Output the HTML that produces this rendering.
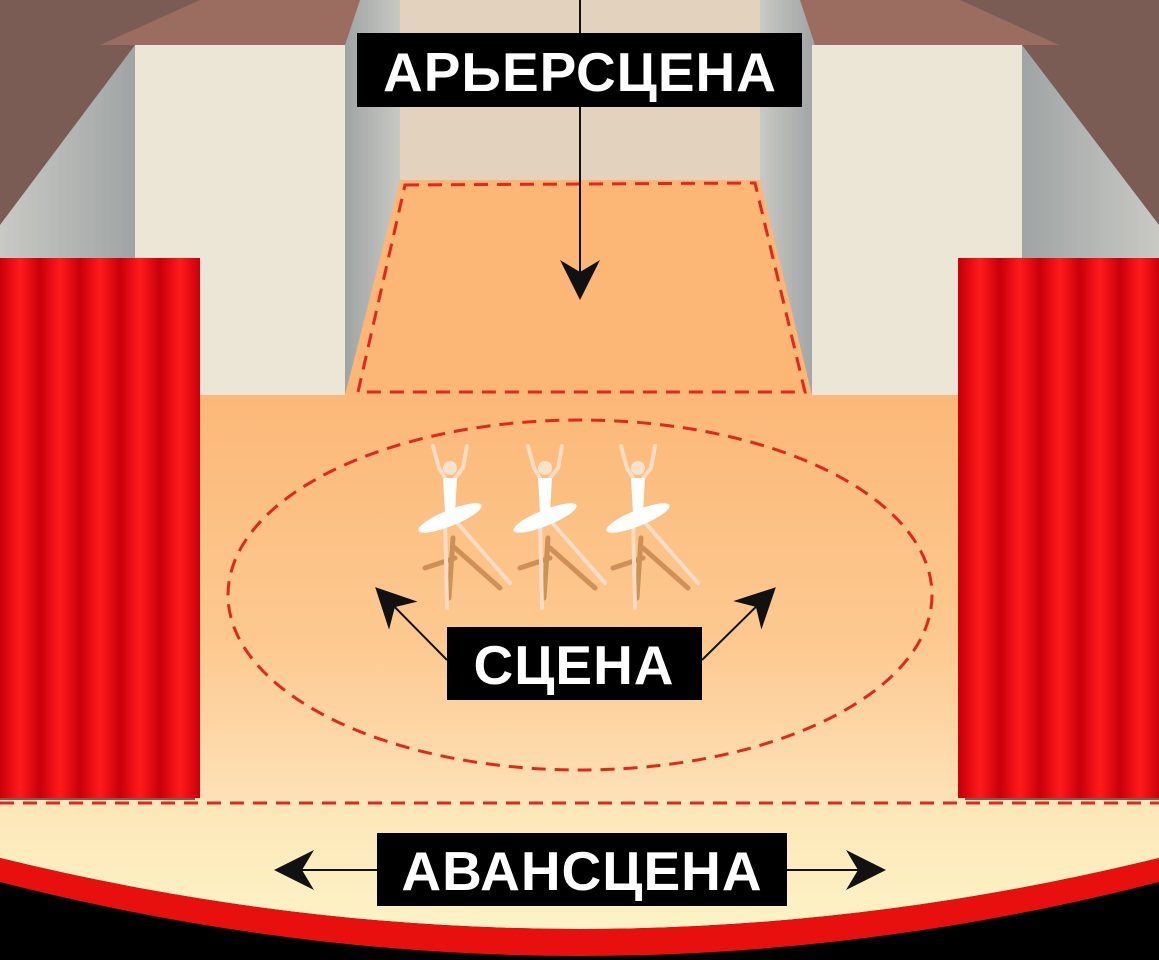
<!DOCTYPE html>
<html><head><meta charset="utf-8"><style>
html,body{margin:0;padding:0;background:#000;}
svg{display:block}
text{font-family:"Liberation Sans","DejaVu Sans",sans-serif;font-weight:bold;fill:#fff}
</style></head><body>
<svg width="1159" height="960" viewBox="0 0 1159 960" xmlns="http://www.w3.org/2000/svg">
<defs>
<linearGradient id="cur" x1="0" x2="1" spreadMethod="repeat">
<stop offset="0" stop-color="#c8000a"/><stop offset="0.5" stop-color="#ff1a1a"/><stop offset="1" stop-color="#c8000a"/>
</linearGradient>
<pattern id="curp" width="40" height="10" patternUnits="userSpaceOnUse">
<rect width="40" height="10" fill="url(#cur)"/>
</pattern>
<linearGradient id="floor" x1="0" y1="0" x2="0" y2="1">
<stop offset="0" stop-color="#fcb878"/><stop offset="0.6" stop-color="#fdc990"/><stop offset="1" stop-color="#fde2b8"/>
</linearGradient>
<linearGradient id="fore" x1="0" y1="0" x2="0" y2="1">
<stop offset="0" stop-color="#fde6b8"/><stop offset="1" stop-color="#fdf3c6"/>
</linearGradient>
<linearGradient id="gl" x1="0" x2="1"><stop offset="0" stop-color="#c9c9c4"/><stop offset="1" stop-color="#9fa4a4"/></linearGradient>
<linearGradient id="gr" x1="1" x2="0"><stop offset="0" stop-color="#c9c9c4"/><stop offset="1" stop-color="#9fa4a4"/></linearGradient>
<marker id="ah" viewBox="0 0 20 20" refX="18" refY="10" markerWidth="40" markerHeight="40" markerUnits="userSpaceOnUse" orient="auto">
<path d="M0,0 L20,10 L0,20 L6,10 Z" fill="#111"/>
</marker>
<g id="dancer">
<g fill="#c7884e" stroke="#c7884e" stroke-width="5" stroke-linecap="round" opacity="0.85">
<line x1="8" y1="70" x2="4" y2="130"/><line x1="10" y1="80" x2="55" y2="120"/><line x1="10" y1="90" x2="-20" y2="100"/>
</g>
<g stroke="#f7dcc6" stroke-width="4" stroke-linecap="round" fill="none">
<path d="M-12,-22 L-6,0 L0,10"/><path d="M22,-22 L18,0 L10,10"/>
<line x1="0" y1="50" x2="2" y2="140"/><line x1="8" y1="50" x2="65" y2="115"/>
</g>
<circle cx="5" cy="0" r="7" fill="#f7e2cc"/>
<path d="M-2,10 L12,10 L10,45 L0,45 Z" fill="#fff"/>
<ellipse cx="5" cy="50" rx="34" ry="8" fill="#fff" transform="rotate(-22 5 50)"/>
</g>
</defs>
<rect width="1159" height="960" fill="#7a5c55"/>
<rect y="800" width="1159" height="160" fill="#000"/>
<polygon points="200,0 360,0 345,45 100,45" fill="#9a6d60"/>
<polygon points="800,0 960,0 1059,45 815,45" fill="#9a6d60"/>
<polygon points="135,45 135,258 0,258 0,225" fill="url(#gl)"/>
<polygon points="1022,45 1022,258 1159,258 1159,225" fill="url(#gr)"/>
<polygon points="360,0 400,0 400,395 345,395 345,45" fill="url(#gr)"/>
<polygon points="760,0 800,0 815,45 812,395 760,395" fill="url(#gl)"/>
<rect x="135" y="45" width="210" height="350" fill="#ebe6d5"/>
<rect x="812" y="45" width="210" height="350" fill="#ebe6d5"/>
<rect x="400" y="0" width="360" height="180" fill="#e3d3be"/>
<polygon points="400,180 760,180 812,395 345,395" fill="#fcb676"/>
<polygon points="405,185 755,183 805,392 358,392" fill="none" stroke="#e0281c" stroke-width="3" stroke-dasharray="14,9"/>
<rect x="195" y="395" width="770" height="410" fill="url(#floor)"/>
<path d="M0,800 L1159,800 L1159,858 Q580,1000 0,858 Z" fill="url(#fore)"/>
<path d="M0,858 Q580,1000 1159,858 L1159,882 Q580,1030 0,882 Z" fill="#e8100e"/>
<line x1="0" y1="803" x2="1159" y2="803" stroke="#e0281c" stroke-width="3" stroke-dasharray="14,9"/>
<rect x="0" y="258" width="200" height="540" fill="url(#curp)"/>
<rect x="958" y="258" width="201" height="540" fill="url(#curp)"/>
<ellipse cx="580" cy="595" rx="352" ry="175" fill="none" stroke="#e0281c" stroke-width="3" stroke-dasharray="14,9"/>
<use href="#dancer" x="445" y="468"/>
<use href="#dancer" x="540" y="468"/>
<use href="#dancer" x="633" y="468"/>
<line x1="580" y1="0" x2="580" y2="296" stroke="#111" stroke-width="2" marker-end="url(#ah)"/>
<rect x="357" y="33" width="445" height="74" fill="#000"/>
<text x="580" y="91" font-size="55" text-anchor="middle" letter-spacing="1">АРЬЕРСЦЕНА</text>
<line x1="447" y1="660" x2="378" y2="590" stroke="#111" stroke-width="2" marker-end="url(#ah)"/>
<line x1="702" y1="660" x2="773" y2="590" stroke="#111" stroke-width="2" marker-end="url(#ah)"/>
<rect x="447" y="627" width="255" height="73" fill="#000"/>
<text x="574" y="684" font-size="55" text-anchor="middle" letter-spacing="1">СЦЕНА</text>
<line x1="378" y1="870" x2="278" y2="870" stroke="#111" stroke-width="2" marker-end="url(#ah)"/>
<line x1="787" y1="870" x2="882" y2="870" stroke="#111" stroke-width="2" marker-end="url(#ah)"/>
<rect x="377" y="833" width="410" height="73" fill="#000"/>
<text x="582" y="890" font-size="55" text-anchor="middle" letter-spacing="1">АВАНСЦЕНА</text>
</svg>
</body></html>
